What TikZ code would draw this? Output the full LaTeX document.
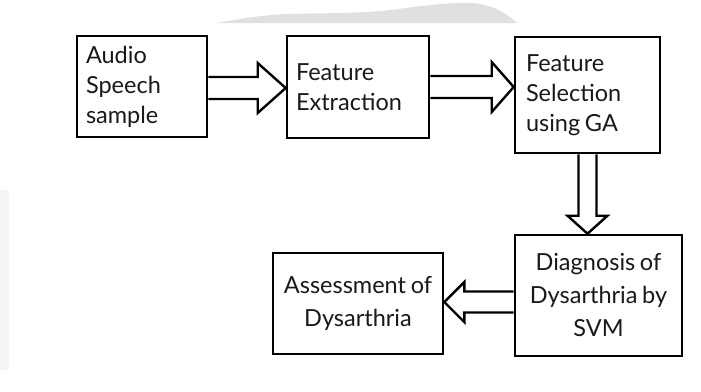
\documentclass[tikz,border=0pt]{standalone}
\usepackage{fontspec}
\setmainfont{Lato}
\usetikzlibrary{calc}
\newcommand{\wsp}{\spaceskip=0.2em\relax}
\tikzset{
  box/.style={draw=black, line width=2.6pt, inner xsep=9pt, inner ysep=0pt,
    font={\fontsize{23.5}{30}\selectfont}, text=black!90},
  boxlow/.style={box, font={\fontsize{23.5}{33}\selectfont}, align=center},
  blockarrow/.style={draw=black, line width=2.4pt, line join=miter, fill=white},
}
% #1 start, #2 end, #3 half shaft width, #4 half head width, #5 head length
\newcommand{\blockarrow}[5]{%
  \coordinate (ba-c) at ($(#2)!#5!(#1)$);
  \draw[blockarrow] ($(#1)!#3!90:(#2)$) -- ($(ba-c)!#3!90:(#2)$)
    -- ($(ba-c)!#4!90:(#2)$) -- (#2) -- ($(ba-c)!#4!-90:(#2)$)
    -- ($(ba-c)!#3!-90:(#2)$) -- ($(#1)!#3!-90:(#2)$);}
\begin{document}
\begin{tikzpicture}[x=1pt,y=-1pt]
\useasboundingbox (0,0) rectangle (701,391);
\fill[white] (0,0) rectangle (701,391);
% faint background marks
\fill[gray!24] (216,23) .. controls (240,19) and (262,15) .. (288,14)
  .. controls (320,13) and (370,14) .. (405,8)
  .. controls (430,5) and (455,2) .. (472,3)
  .. controls (490,4) and (505,12) .. (517,23) -- cycle;
\fill[gray!9] (0,190) rectangle (9,370);
% boxes
\node[box, minimum width=130pt, minimum height=101pt, text width=112pt, align=left]
  (b1) at (142,86.5) {Audio\\Speech\\sample};
\node[box, minimum width=142pt, minimum height=102pt, text width=124pt, align=left]
  (b2) at (358,87) {Feature\\Extraction};
\node[box, inner xsep=11pt, minimum width=145pt, minimum height=116pt, text width=123pt, align=left]
  (b3) at (587.5,95) {Feature\\Selection\\\wsp using GA};
\node[boxlow, minimum width=167pt, minimum height=121pt, text width=149pt]
  (b4) at (598.5,295.5) {\wsp Diagnosis of\\Dysarthria by\\SVM};
\node[boxlow, minimum width=170pt, minimum height=101pt, text width=152pt]
  (b5) at (358,303.5) {\wsp Assessment of\\Dysarthria};
% connectors
\coordinate (a1s) at ([yshift=-1.5pt]b1.east);
\coordinate (a1e) at (b2.west |- a1s);
\coordinate (a2e) at (b3.west |- b2.east);
\coordinate (a3e) at (b3.south |- b4.north);
\coordinate (a4s) at ([yshift=1.5pt]b4.west |- b5.east);
\coordinate (a4e) at (b5.east |- a4s);
\blockarrow{a1s}{a1e}{11pt}{25pt}{28pt}
\blockarrow{b2.east}{a2e}{11pt}{25pt}{22pt}
\blockarrow{b3.south}{a3e}{9pt}{20pt}{18pt}
\blockarrow{a4s}{a4e}{10.5pt}{20pt}{20pt}
\end{tikzpicture}
\end{document}
